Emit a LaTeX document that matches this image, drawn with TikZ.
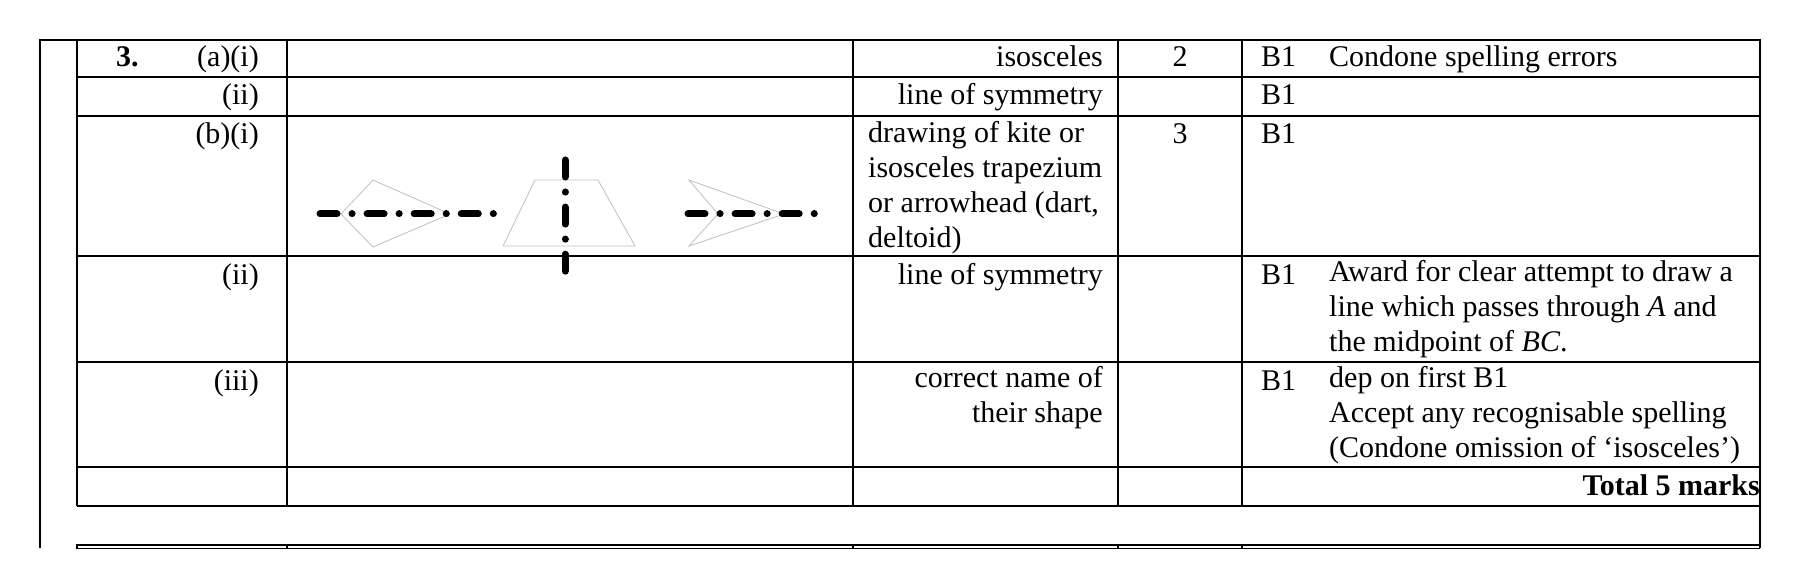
\documentclass[tikz,border=0pt]{standalone}
\usepackage{fontspec}
\setmainfont{Liberation Serif}
\begin{document}
\begin{tikzpicture}[x=1pt,y=-1pt,
  rule/.style={line width=1.2pt},
  shp/.style={draw=black!25,line width=0.8pt},
  sym/.style={line width=7pt,line cap=round,dash pattern=on 17pt off 15pt on 0.1pt off 15pt},
  txt/.style={anchor=base,inner sep=0pt,font=\fontsize{30}{35}\selectfont},
  txtl/.style={txt,anchor=base west},
  txtr/.style={txt,anchor=base east}]
\useasboundingbox (0,0) rectangle (1800,588);
% frame
\draw[rule] (40,548) -- (40,40) -- (1760,40) -- (1760,548);
\foreach \y in {77,116,256,362,467,506} \draw[rule] (77,\y) -- (1760,\y);
\foreach \x in {77,287,853,1118,1242} {\draw[rule] (\x,544) -- (\x,549);}
\foreach \x in {77,287,853,1118,1242} {\draw[rule] (\x,40) -- (\x,506);}
\draw[rule] (77,545) -- (1760,545);
\draw[rule] (77,548.5) -- (1760,548.5);
\fill[white] (288,257) rectangle (852,361);
% texts
\node[txtl,font=\fontsize{30}{35}\selectfont\bfseries] (n3) at (116,67) {3.};
\node[txtr] (a1) at (259,67) {(a)(i)};
\node[txtr] (a2) at (259,105) {(ii)};
\node[txtr] (b1) at (259,144) {(b)(i)};
\node[txtr] (b2) at (259,284) {(ii)};
\node[txtr] (b3) at (259,390) {(iii)};
\node[txtr] (t1) at (1103,67) {isosceles};
\node[txtr] (t2) at (1103,105) {line of symmetry};
\node[txtl,align=left,anchor=north west] (t3) at (868,121) {drawing of kite or\\isosceles trapezium\\or arrowhead (dart,\\deltoid)};
\node[txtr] (t4) at (1103,284) {line of symmetry};
\node[txtr,align=right,anchor=north east] (t5) at (1103,366) {correct name of\\their shape};
\node[txt] (m1) at (1180,67) {2};
\node[txt] (m2) at (1180,144) {3};
\node[txtl] (c1) at (1261,67) {B1};
\node[txtl] (c2) at (1261,105) {B1};
\node[txtl] (c3) at (1261,144) {B1};
\node[txtl] (c4) at (1261,284) {B1};
\node[txtl] (c5) at (1261,390) {B1};
\node[txtl] (d1) at (1329,67) {Condone spelling errors};
\node[txtl,align=left,anchor=north west] (d2) at (1329,260) {Award for clear attempt to draw a\\line which passes through \textit{A} and\\the midpoint of \textit{BC}.};
\node[txtl,align=left,anchor=north west] (d3) at (1329,366) {dep on first B1\\Accept any recognisable spelling\\(Condone omission of ‘isosceles’)};
\node[txtr,font=\fontsize{30}{35}\selectfont\bfseries] (tot) at (1760,495) {Total 5 marks};
% shapes
\draw[shp] (341,214) -- (373,180) -- (450,214) -- (373,247) -- cycle;
\draw[sym] (320,214) -- (494,214);
\draw[shp] (535,180) -- (598,180) -- (635,246) -- (503,246) -- cycle;
\draw[sym] (565,160) -- (565,284);
\draw[shp] (689,180) -- (784,214) -- (689,246) -- (718,214) -- cycle;
\draw[sym] (688,214) -- (821,214);
\end{tikzpicture}
\end{document}
